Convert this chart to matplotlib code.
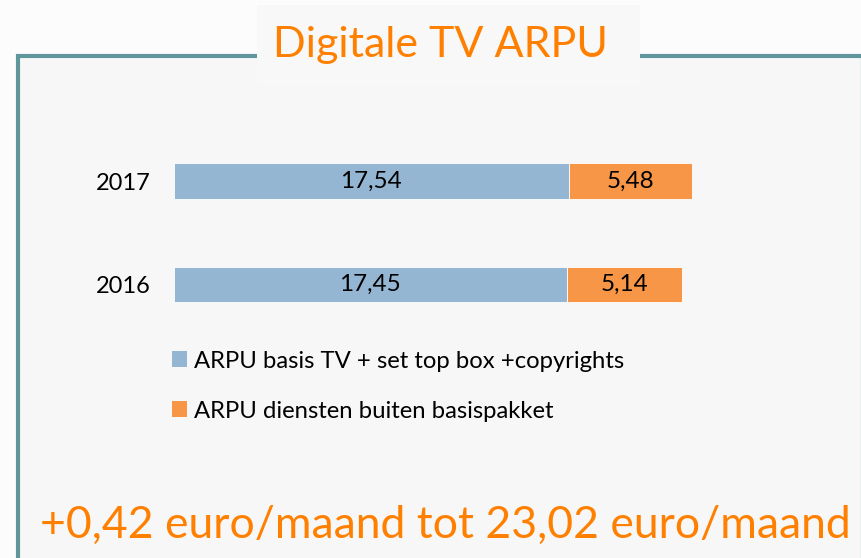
import matplotlib.pyplot as plt
from matplotlib.patches import Rectangle, Patch

# data
years = ["2016", "2017"]
basis_tv = [17.45, 17.54]
diensten = [5.14, 5.48]
series_labels = ["ARPU basis TV + set top box +copyrights",
                 "ARPU diensten buiten basispakket"]
title = "Digitale TV ARPU"
footer = "+0,42 euro/maand tot 23,02 euro/maand"

BLUE = "#95b6d3"
ORANGE = "#f79646"
TITLE_ORANGE = "#ff8000"
BORDER = "#5f969c"

W, H = 862, 558
plt.rcParams["font.family"] = ["Lato", "DejaVu Sans"]


def fx(px):
    return px / W


def fy(py):
    return 1 - py / H


fig = plt.figure(figsize=(W / 100, H / 100), dpi=100)
fig.patch.set_facecolor("#fcfcfc")

# outer panel with border
fig.patches.append(Rectangle((fx(18), fy(H + 10)), fx(W + 1) - fx(18), fy(56) - fy(H + 10),
                             transform=fig.transFigure, facecolor="#f7f7f7",
                             edgecolor=BORDER, linewidth=3, zorder=0))
# title box cuts the border
fig.patches.append(Rectangle((fx(257), fy(85)), fx(640) - fx(257), fy(5) - fy(85),
                             transform=fig.transFigure, facecolor="#f8f8f8",
                             edgecolor="none", zorder=1))
fig.text(fx(440), fy(45), title, ha="center", va="center", fontsize=31,
         color=TITLE_ORANGE, zorder=2)

# bars
ax = fig.add_axes([fx(174), fy(310), fx(692) - fx(174), fy(150) - fy(310)])
ax.set_zorder(5)
ax.set_facecolor("none")
ypos = list(range(len(years)))
b1 = ax.barh(ypos, basis_tv, height=0.34, color=BLUE, edgecolor="white", linewidth=0.6)
b2 = ax.barh(ypos, diensten, left=basis_tv, height=0.34, color=ORANGE,
             edgecolor="white", linewidth=0.6)
for bars in (b1, b2):
    labels = [f"{b.get_width():.2f}".replace(".", ",") for b in bars]
    ax.bar_label(bars, labels=labels, label_type="center", fontsize=17.5, color="black")

ax.set_xlim(0, max(a + b for a, b in zip(basis_tv, diensten)))
ax.set_ylim(-0.252, 1.301)
ax.set_yticks(ypos)
ax.set_yticklabels(years, fontsize=17)
ax.tick_params(axis="y", length=0, pad=17)
ax.set_xticks([])
for s in ax.spines.values():
    s.set_visible(False)

handles = [Patch(facecolor=BLUE), Patch(facecolor=ORANGE)]
fig.legend(handles, series_labels, loc="upper left",
           bbox_to_anchor=(fx(150), fy(329)), frameon=False, fontsize=17.2,
           handlelength=0.65, handleheight=0.65, handletextpad=0.3,
           labelspacing=1.22)

fig.text(fx(445), fy(525), footer, ha="center", va="center", fontsize=32,
         color=TITLE_ORANGE)

fig.savefig("out.png", dpi=100, facecolor=fig.get_facecolor())
